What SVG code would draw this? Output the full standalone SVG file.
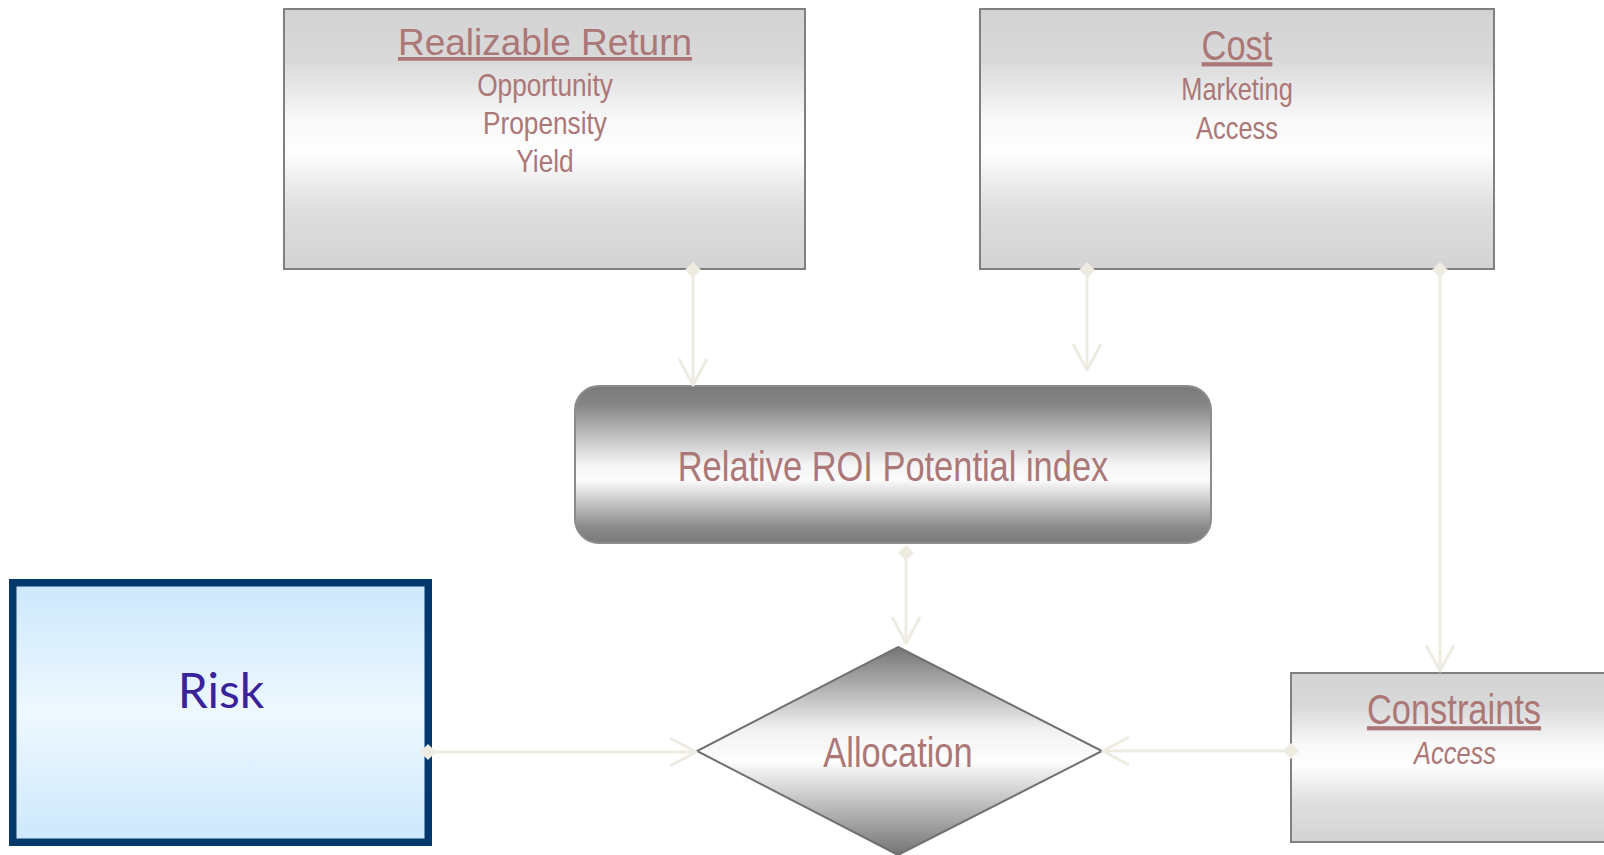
<svg xmlns="http://www.w3.org/2000/svg" width="1604" height="855" viewBox="0 0 1604 855">
  <defs>
    <style>
      .lbl { fill: #ab7777; text-anchor: middle; font-family: "Liberation Sans", Arial, sans-serif; }
      .ul { text-decoration: underline; }
      .box { stroke: #808080; stroke-width: 2; }
      .link { fill: none; stroke: #eeece1; stroke-width: 3; }
    </style>
    <linearGradient id="gSilver" x1="0" y1="0" x2="0" y2="1">
      <stop offset="0" stop-color="#d3d3d3"/>
      <stop offset="0.2" stop-color="#d9d9d9"/>
      <stop offset="0.42" stop-color="#f8f8f8"/>
      <stop offset="0.55" stop-color="#fefefe"/>
      <stop offset="0.76" stop-color="#dfdfdf"/>
      <stop offset="1" stop-color="#d3d3d3"/>
    </linearGradient>
    <linearGradient id="gSteel" x1="0" y1="0" x2="0" y2="1">
      <stop offset="0" stop-color="#797979"/>
      <stop offset="0.12" stop-color="#868686"/>
      <stop offset="0.5" stop-color="#f4f4f4"/>
      <stop offset="0.6" stop-color="#fbfbfb"/>
      <stop offset="0.9" stop-color="#8a8a8a"/>
      <stop offset="1" stop-color="#7a7a7a"/>
    </linearGradient>
    <linearGradient id="gDiamond" x1="0" y1="0" x2="0" y2="1">
      <stop offset="0" stop-color="#747474"/>
      <stop offset="0.4" stop-color="#f2f2f2"/>
      <stop offset="0.55" stop-color="#fdfdfd"/>
      <stop offset="1" stop-color="#747474"/>
    </linearGradient>
    <linearGradient id="gSky" x1="0" y1="0" x2="0" y2="1">
      <stop offset="0" stop-color="#cce8fc"/>
      <stop offset="0.5" stop-color="#eef8ff"/>
      <stop offset="1" stop-color="#cce8fc"/>
    </linearGradient>
    <marker id="openArrow" markerUnits="userSpaceOnUse" viewBox="-30 -17 34 34" markerWidth="34" markerHeight="34" refX="0" refY="0" orient="auto" overflow="visible">
      <path d="M-26,-14 L0,0 L-26,14" fill="none" stroke="#eeece1" stroke-width="3" stroke-linejoin="round"/>
    </marker>
    <marker id="tabDiamond" markerUnits="userSpaceOnUse" viewBox="-9 -9 18 18" markerWidth="18" markerHeight="18" refX="0" refY="0" orient="auto" overflow="visible">
      <path d="M-8,0 L0,-8 L8,0 L0,8 Z" fill="#eeece1"/>
    </marker>
  </defs>

  <rect width="1604" height="855" fill="#ffffff"/>

  <!-- nodes; condensed labels are Liberation Sans squeezed horizontally -->
  <g id="node-realizable-return">
    <rect class="box" x="284" y="9" width="521" height="260" fill="url(#gSilver)"/>
    <text class="lbl ul" x="545" y="55" font-size="37">Realizable Return</text>
    <text class="lbl" transform="translate(545 96) scale(0.82 1)" font-size="32">Opportunity</text>
    <text class="lbl" transform="translate(545 134) scale(0.82 1)" font-size="32">Propensity</text>
    <text class="lbl" transform="translate(545 172) scale(0.82 1)" font-size="32">Yield</text>
  </g>

  <g id="node-cost">
    <rect class="box" x="980" y="9" width="514" height="260" fill="url(#gSilver)"/>
    <text class="lbl ul" transform="translate(1237 60) scale(0.82 1)" font-size="42">Cost</text>
    <text class="lbl" transform="translate(1237 100) scale(0.82 1)" font-size="31">Marketing</text>
    <text class="lbl" transform="translate(1237 139) scale(0.82 1)" font-size="31">Access</text>
  </g>

  <g id="node-roi-index">
    <rect x="575" y="386" width="636" height="157" rx="24" ry="24" fill="url(#gSteel)" stroke="#8c8c8c" stroke-width="2"/>
    <text class="lbl" transform="translate(893 481) scale(0.82 1)" font-size="42">Relative ROI Potential index</text>
  </g>

  <g id="node-risk">
    <rect x="12.75" y="582.75" width="415.5" height="259.5" fill="url(#gSky)" stroke="#02386b" stroke-width="7.5"/>
    <text x="221" y="708" font-size="48" font-family="Lato, 'Open Sans', sans-serif" fill="#3a229a" text-anchor="middle">Risk</text>
  </g>

  <g id="node-allocation">
    <polygon points="898,647 1102,751 898,855 697,751" fill="url(#gDiamond)" stroke="#707070" stroke-width="2"/>
    <text class="lbl" transform="translate(898 767) scale(0.82 1)" font-size="42">Allocation</text>
  </g>

  <g id="node-constraints">
    <rect class="box" x="1291" y="673" width="330" height="169" fill="url(#gSilver)"/>
    <text class="lbl ul" transform="translate(1454 724) scale(0.82 1)" font-size="42">Constraints</text>
    <text class="lbl" transform="translate(1455 764) scale(0.82 1)" font-size="31" font-style="italic">Access</text>
  </g>

  <!-- connectors -->
  <g id="connectors">
    <path class="link" d="M693,270 V385" marker-start="url(#tabDiamond)" marker-end="url(#openArrow)"/>
    <path class="link" d="M1087,270 V370" marker-start="url(#tabDiamond)" marker-end="url(#openArrow)"/>
    <path class="link" d="M1440,270 V671" marker-start="url(#tabDiamond)" marker-end="url(#openArrow)"/>
    <path class="link" d="M906,553 V643" marker-start="url(#tabDiamond)" marker-end="url(#openArrow)"/>
    <path class="link" d="M428,752 H696" marker-start="url(#tabDiamond)" marker-end="url(#openArrow)"/>
    <path class="link" d="M1291,751 H1103" marker-start="url(#tabDiamond)" marker-end="url(#openArrow)"/>
  </g>
</svg>
